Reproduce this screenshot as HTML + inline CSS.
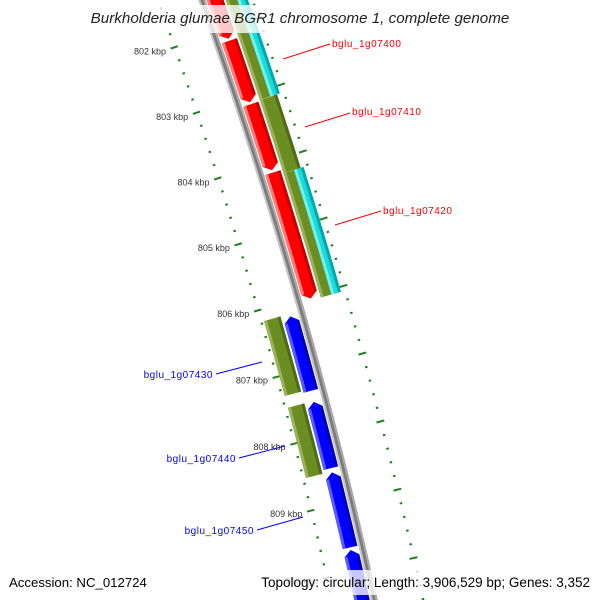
<!DOCTYPE html>
<html><head><meta charset="utf-8"><style>
html,body{margin:0;padding:0;background:#fff;width:600px;height:600px;overflow:hidden;}
#wrap{position:relative;width:600px;height:600px;overflow:hidden;}
svg{display:block;font-family:"Liberation Sans",sans-serif;}
</style></head><body>
<div id="wrap">
<svg id="map" width="600" height="600" viewBox="0 0 600 600" xmlns="http://www.w3.org/2000/svg" style="position:absolute;left:0;top:0">
<rect width="600" height="600" fill="#fff"/>
<g id="ticks"></g>
<g id="features"></g>
<g id="labels"></g>
</svg>
<svg style="position:absolute;left:0;top:0" width="600" height="600">
<rect x="84" y="5" width="432" height="28" fill="rgba(255,255,255,0.78)"/>
<text x="300" y="23" text-anchor="middle" font-family="Liberation Sans, sans-serif" font-style="italic" font-size="15.2" fill="#222">Burkholderia glumae BGR1 chromosome 1, complete genome</text>
<rect x="4" y="570" width="146" height="25" fill="rgba(255,255,255,0.78)"/>
<text x="9" y="587" font-family="Liberation Sans, sans-serif" font-size="13.2" fill="#000">Accession: NC_012724</text>
<rect x="256" y="570" width="340" height="25" fill="rgba(255,255,255,0.78)"/>
<text x="590" y="587" text-anchor="end" font-family="Liberation Sans, sans-serif" font-size="13.5" fill="#000">Topology: circular; Length: 3,906,529 bp; Genes: 3,352</text>
</svg>
</div>
<script>
// ---- data (bp positions) ----
const redStarts=[800800,802170,803130,804160];
const redEnds=[802139,803100,804124,806045];
const greenRStarts=[801000,803115,804215];
const greenREnds=[803112,804212,806070];
const cyanStarts=[801000,804215];
const cyanEnds=[803112,806070];
const blueStarts=[806210,807487,808536,809686];
const blueEnds=[807322,808473,809648,811500];
const greenLStarts=[806172,807474];
const greenLEnds=[807297,808523];
const kbpTicks=[801,802,803,804,805,806,807,808,809,810,811];
const kbpLabels=["801 kbp","802 kbp","803 kbp","804 kbp","805 kbp","806 kbp","807 kbp","808 kbp","809 kbp","810 kbp","811 kbp"];
const geneNames=["bglu_1g07400","bglu_1g07410","bglu_1g07420","bglu_1g07430","bglu_1g07440","bglu_1g07450"];

// ---- geometry ----
const CX=-4548, CY=1690, P0=802000, A0=-19.18, DPB=0.791/1000;
const NS="http://www.w3.org/2000/svg";
function ang(p){return (A0+(p-P0)*DPB)*Math.PI/180;}
function pt(r,p){const a=ang(p);return [CX+r*Math.cos(a),CY+r*Math.sin(a)];}
function f(q){return q[0].toFixed(2)+","+q[1].toFixed(2);}
function band(r1,r2,p1,p2){
  return "M"+f(pt(r1,p1))+"A"+r1+","+r1+" 0 0 1 "+f(pt(r1,p2))+"L"+f(pt(r2,p2))+"A"+r2+","+r2+" 0 0 0 "+f(pt(r2,p1))+"Z";
}
function fwdArrow(r1,r2,p1,p2,h){
  const m=(r1+r2)/2;
  return "M"+f(pt(r1,p1))+"A"+r1+","+r1+" 0 0 1 "+f(pt(r1,p2-h))+"L"+f(pt(m,p2))+"L"+f(pt(r2,p2-h))+"A"+r2+","+r2+" 0 0 0 "+f(pt(r2,p1))+"Z";
}
function revArrow(r1,r2,p1,p2,h){
  const m=(r1+r2)/2;
  return "M"+f(pt(m,p1))+"L"+f(pt(r1,p1+h))+"A"+r1+","+r1+" 0 0 1 "+f(pt(r1,p2))+"L"+f(pt(r2,p2))+"A"+r2+","+r2+" 0 0 0 "+f(pt(r2,p1+h))+"Z";
}
function addPath(parent,d,fill){
  const e=document.createElementNS(NS,"path");
  e.setAttribute("d",d);e.setAttribute("fill",fill);
  parent.appendChild(e);return e;
}
const feat=document.getElementById("features");
const tk=document.getElementById("ticks");
const lab=document.getElementById("labels");
const H=86;

let e;
e=addPath(feat,band(5038,5040,799000,812000),"#c4c4c4");


e=addPath(feat,band(5040,5043,799000,812000),"#7c7c7c");


e=addPath(feat,band(5043,5045,799000,812000),"#a8a8a8");



function shaded(arr1,arr2,r1,r2,main,light,dark,kind,name){
  for(let i=0;i<arr1.length;i++){
    const p1=arr1[i],p2=arr2[i];
    let d;
    if(kind==="fwd")d=fwdArrow(r1,r2,p1,p2,H);
    else if(kind==="rev")d=revArrow(r1,r2,p1,p2,H);
    else d=band(r1,r2,p1,p2);
    e=addPath(feat,d,main);
    
    
    const a=kind==="rev"?p1+H:p1, b=kind==="fwd"?p2-H:p2;
    e=addPath(feat,band(r1,r1+3,a,b),light);
    
    
    e=addPath(feat,band(r2-3,r2,a,b),dark);
    
    
  }
}
shaded(redStarts,redEnds,5046,5062,"#ff0000","#ff7a7a","#c80000","fwd","red-gene");
shaded(greenRStarts,greenREnds,5064,5082,"#6b8e23","#9bb25a","#4f6b17","box","olive-feature-right");
shaded(cyanStarts,cyanEnds,5075,5085,"#18dcdc","#70f0f0","#00a8a8","box","cyan-feature");
shaded(blueStarts,blueEnds,5022,5037,"#0000ff","#5a5aff","#0000b8","rev","blue-gene");
shaded(greenLStarts,greenLEnds,5003,5020,"#6b8e23","#9bb25a","#4f6b17","box","olive-feature-left");

function tickLine(r1,r2,p,w,name){
  const a=pt(r1,p),b=pt(r2,p);
  const l=document.createElementNS(NS,"line");
  l.setAttribute("x1",a[0]);l.setAttribute("y1",a[1]);l.setAttribute("x2",b[0]);l.setAttribute("y2",b[1]);
  l.setAttribute("stroke","#1e821e");l.setAttribute("stroke-width",w);
  
  
  tk.appendChild(l);
}
for(let k=0;k<kbpTicks.length;k++){
  const base=kbpTicks[k]*1000;
  tickLine(4996,5003.5,base,2,'major-tick-inner');
  tickLine(5085,5093,base,2,'major-tick-outer');
  for(let j=1;j<5;j++){
    tickLine(4999,5001.5,base+j*200,2,'minor-tick-inner');
    tickLine(5088,5090.5,base+j*200,2,'minor-tick-outer');
  }
  const q=pt(4990,base);
  const t=document.createElementNS(NS,"text");
  t.setAttribute("x",q[0]+1);t.setAttribute("y",q[1]+4);
  t.setAttribute("text-anchor","end");t.setAttribute("font-size","9");t.setAttribute("fill","#333");
  t.textContent=kbpLabels[k];
  
  
  tk.appendChild(t);
}

const labPos=[[332,47,283,59,330,44,"start","#ff0000"],[352,115,305,127,350,113,"start","#ff0000"],[383,214,335,225,381,211,"start","#ff0000"],
[213,378,262,362,216,374,"end","#0000ff"],[236,462,285,446,239,458,"end","#0000ff"],[254,534,303,517,257,530,"end","#0000ff"]];
for(let i=0;i<geneNames.length;i++){
  const L=labPos[i];
  const ln=document.createElementNS(NS,"line");
  ln.setAttribute("x1",L[2]);ln.setAttribute("y1",L[3]);ln.setAttribute("x2",L[4]);ln.setAttribute("y2",L[5]);
  ln.setAttribute("stroke",L[7]);ln.setAttribute("stroke-width","1");
  
  
  lab.appendChild(ln);
  const t=document.createElementNS(NS,"text");
  t.setAttribute("x",L[0]);t.setAttribute("y",L[1]);t.setAttribute("text-anchor",L[6]);
  t.setAttribute("font-size","10");t.setAttribute("letter-spacing","0.5");t.setAttribute("fill",L[7]);
  t.textContent=geneNames[i];
  
  
  lab.appendChild(t);
}
</script>
</body></html>
